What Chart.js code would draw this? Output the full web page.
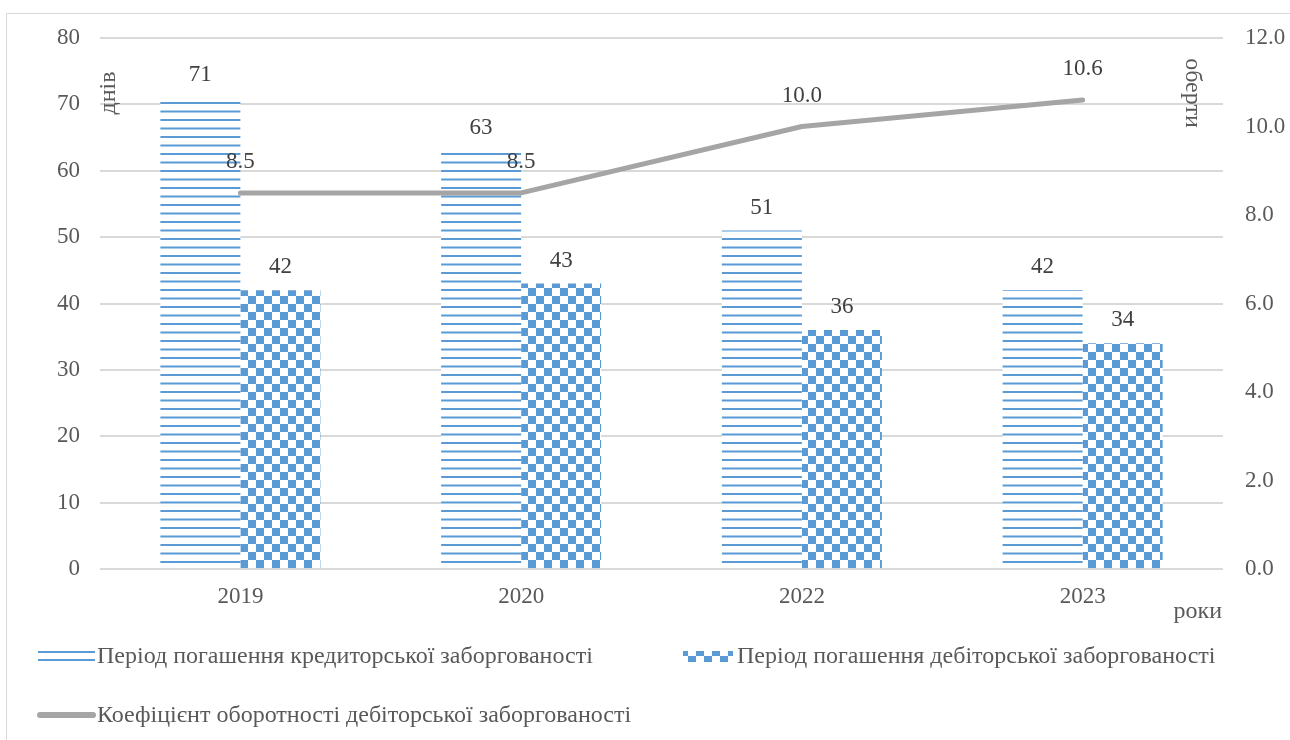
<!DOCTYPE html>
<html>
<head>
<meta charset="utf-8">
<script src="https://cdn.jsdelivr.net/npm/chart.js@4.4.1/dist/chart.umd.min.js"></script>
<style>
  html, body { margin: 0; padding: 0; background: #fff; }
  #wrap { position: relative; width: 1290px; height: 740px; overflow: hidden; }
  #frame { position: absolute; left: 6px; top: 13px; width: 1320px; height: 760px; border: 1px solid #d9d9d9; box-sizing: border-box; }
  #c { position: absolute; left: 0; top: 0; }
</style>
</head>
<body>
<div id="wrap">
  <div id="frame"></div>
  <canvas id="c" width="1290" height="740"></canvas>
</div>
<script>
// Роки
const years = ['2019', '2020', '2022', '2023'];
// Період погашення кредиторської заборгованості, днів
const creditorDays = [71, 63, 51, 42];
// Період погашення дебіторської заборгованості, днів
const debtorDays = [42, 43, 36, 34];
// Коефіцієнт оборотності дебіторської заборгованості, оберти
const turnoverRatio = [8.5, 8.5, 10.0, 10.6];

const SERIF = '"Liberation Serif", "Times New Roman", serif';
const BLUE = '#5b9bd5';
const GREY_LINE = '#a5a5a5';
const TEXT = '#595959';
const GRID = '#d9d9d9';
const FONT_SIZE = 23;
const CAPTION_SIZE = 24;

// Horizontal stripe fill
function stripePattern() {
  const c = document.createElement('canvas');
  c.width = 8; c.height = 17;
  const g = c.getContext('2d');
  g.fillStyle = '#ffffff'; g.fillRect(0, 0, 8, 17);
  g.fillStyle = BLUE;
  g.fillRect(0, 0, 8, 2);
  g.fillRect(0, 8.5, 8, 2);
  return g.createPattern(c, 'repeat');
}
// Checkerboard fill
function checkerPattern() {
  const c = document.createElement('canvas');
  c.width = 16; c.height = 16;
  const g = c.getContext('2d');
  g.fillStyle = '#ffffff'; g.fillRect(0, 0, 16, 16);
  g.fillStyle = BLUE;
  g.fillRect(0, 0, 8, 8);
  g.fillRect(8, 8, 8, 8);
  return g.createPattern(c, 'repeat');
}
const stripes = stripePattern();
const checker = checkerPattern();

// Value labels above bars and line points
const valueLabels = {
  id: 'valueLabels',
  afterDatasetsDraw(chart) {
    const ctx = chart.ctx;
    ctx.save();
    ctx.font = FONT_SIZE + 'px ' + SERIF;
    ctx.fillStyle = '#404040';
    ctx.textAlign = 'center';
    ctx.textBaseline = 'middle';
    chart.data.datasets.forEach((ds, i) => {
      const meta = chart.getDatasetMeta(i);
      meta.data.forEach((el, j) => {
        const v = ds.data[j];
        const isLine = ds.type === 'line';
        const txt = isLine ? v.toFixed(1) : String(v);
        ctx.fillText(txt, el.x, el.y - (isLine ? 31 : 23));
      });
    });
    ctx.restore();
  }
};

// Axis captions inside the plot and the legend below it
const captions = {
  id: 'captions',
  afterDraw(chart) {
    const ctx = chart.ctx;
    const ds = chart.data.datasets;
    ctx.save();
    ctx.font = CAPTION_SIZE + 'px ' + SERIF;
    ctx.fillStyle = TEXT;
    ctx.textBaseline = 'middle';

    // днів
    ctx.save();
    ctx.translate(109, 93);
    ctx.rotate(-Math.PI / 2);
    ctx.textAlign = 'center';
    ctx.fillText('днів', 0, 0);
    ctx.restore();

    // оберти
    ctx.save();
    ctx.translate(1192, 93);
    ctx.rotate(Math.PI / 2);
    ctx.textAlign = 'center';
    ctx.fillText('оберти', 0, 0);
    ctx.restore();

    // роки
    ctx.textAlign = 'right';
    ctx.fillText('роки', 1222, 612);

    // legend
    ctx.textAlign = 'left';
    ctx.fillStyle = BLUE;
    ctx.fillRect(38, 651, 57, 2);
    ctx.fillRect(38, 659, 57, 2);
    ctx.fillStyle = TEXT;
    ctx.fillText(ds[0].label, 97, 657);

    ctx.fillStyle = checker;
    ctx.fillRect(683, 651, 50, 11);
    ctx.fillStyle = TEXT;
    ctx.fillText(ds[1].label, 737, 657);

    ctx.strokeStyle = GREY_LINE;
    ctx.lineWidth = 6;
    ctx.lineCap = 'round';
    ctx.beginPath();
    ctx.moveTo(40, 715);
    ctx.lineTo(93, 715);
    ctx.stroke();
    ctx.fillStyle = TEXT;
    ctx.fillText(ds[2].label, 97, 716);
    ctx.restore();
  }
};

new Chart(document.getElementById('c'), {
  type: 'bar',
  data: {
    labels: years,
    datasets: [
      {
        label: 'Період погашення кредиторської заборгованості',
        data: creditorDays,
        backgroundColor: stripes,
        borderWidth: 0,
        yAxisID: 'y',
        order: 1,
        categoryPercentage: 0.57,
        barPercentage: 1
      },
      {
        label: 'Період погашення дебіторської заборгованості',
        data: debtorDays,
        backgroundColor: checker,
        borderWidth: 0,
        yAxisID: 'y',
        order: 1,
        categoryPercentage: 0.57,
        barPercentage: 1
      },
      {
        type: 'line',
        label: 'Коефіцієнт оборотності дебіторської заборгованості',
        data: turnoverRatio,
        borderColor: GREY_LINE,
        backgroundColor: GREY_LINE,
        borderWidth: 5,
        borderCapStyle: 'round',
        borderJoinStyle: 'round',
        pointRadius: 0,
        tension: 0,
        yAxisID: 'y1',
        order: 0
      }
    ]
  },
  options: {
    responsive: false,
    devicePixelRatio: 1,
    animation: false,
    layout: { padding: { top: 38, left: 0, right: 0, bottom: 0 } },
    plugins: {
      legend: { display: false },
      tooltip: { enabled: false }
    },
    scales: {
      x: {
        grid: { display: false, drawTicks: false },
        border: { display: false },
        ticks: { color: TEXT, font: { family: SERIF, size: FONT_SIZE }, padding: 14 },
        afterFit(s) { s.height = 171; }
      },
      y: {
        position: 'left',
        min: 0, max: 80,
        ticks: { stepSize: 10, color: TEXT, font: { family: SERIF, size: FONT_SIZE }, padding: 20 },
        grid: { color: GRID, lineWidth: 2, drawTicks: false },
        border: { display: false },
        afterFit(s) { s.width = 100; }
      },
      y1: {
        position: 'right',
        min: 0, max: 12,
        ticks: {
          stepSize: 2, color: TEXT, font: { family: SERIF, size: FONT_SIZE }, padding: 22,
          callback: v => v.toFixed(1)
        },
        grid: { display: false, drawTicks: false },
        border: { display: false },
        afterFit(s) { s.width = 67; }
      }
    }
  },
  plugins: [valueLabels, captions]
});
</script>
</body>
</html>
